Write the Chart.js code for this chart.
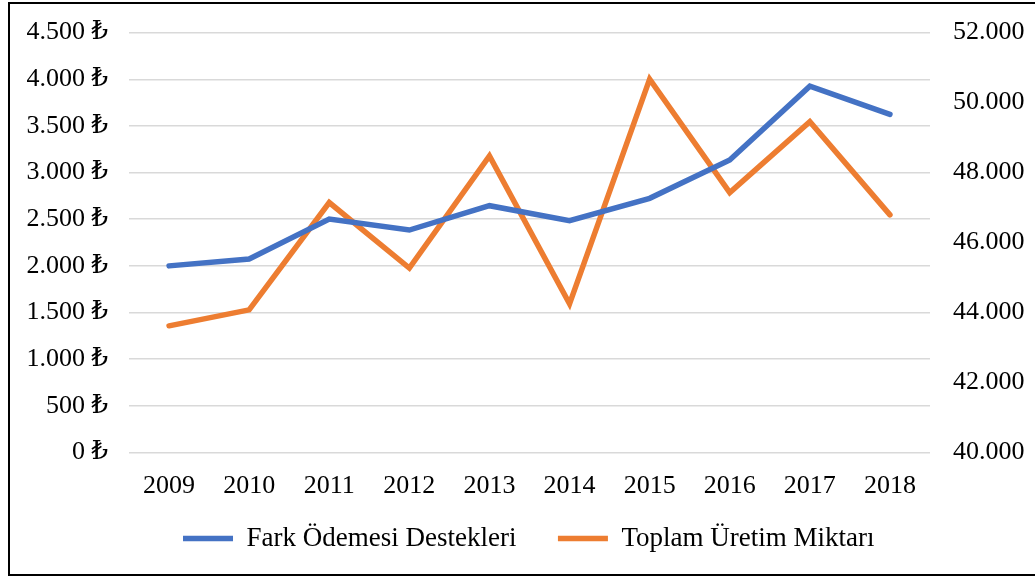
<!DOCTYPE html>
<html>
<head>
<meta charset="utf-8">
<script src="https://cdn.jsdelivr.net/npm/chart.js@4/dist/chart.umd.min.js"></script>
<style>
  html, body { margin: 0; padding: 0; background: #fff; overflow: hidden; }
  #wrap { position: relative; width: 1035px; height: 578px; overflow: hidden; }
  #frame { position: absolute; left: 8px; top: 2px; width: 1040px; height: 574px; border: 2px solid #000; box-sizing: border-box; pointer-events: none; }
</style>
</head>
<body>
<div id="wrap">
  <canvas id="c" width="1035" height="578"></canvas>
  <div id="frame"></div>
</div>
<script>
const categories = ['2009','2010','2011','2012','2013','2014','2015','2016','2017','2018'];
const farkOdemesi = [2000, 2074, 2502, 2384, 2645, 2484, 2724, 3134, 3926, 3623];
const toplamUretim = [43620, 44077, 47143, 45269, 48477, 44249, 50669, 47429, 49457, 46791];
const seriesLabels = ['Fark Ödemesi Destekleri', 'Toplam Üretim Miktarı'];
const leftTicks = [0, 500, 1000, 1500, 2000, 2500, 3000, 3500, 4000, 4500];
const rightTicks = [40000, 42000, 44000, 46000, 48000, 50000, 52000];
const currencySuffix = ' ₺';

const FONT = "'Liberation Serif', 'DejaVu Serif', 'Times New Roman', serif";
const fmt = v => String(v).replace(/\B(?=(\d{3})+(?!\d))/g, '.');

new Chart(document.getElementById('c'), {
  type: 'line',
  data: {
    labels: categories,
    datasets: [
      {
        label: seriesLabels[0], data: farkOdemesi, yAxisID: 'yL',
        borderColor: '#4472C4', backgroundColor: '#4472C4', borderWidth: 5.5,
        pointRadius: 0, tension: 0, borderCapStyle: 'round'
      },
      {
        label: seriesLabels[1], data: toplamUretim, yAxisID: 'yR',
        borderColor: '#ED7D31', backgroundColor: '#ED7D31', borderWidth: 5.5,
        pointRadius: 0, tension: 0, borderCapStyle: 'round'
      }
    ]
  },
  options: {
    responsive: false,
    animation: false,
    layout: { padding: { left: 22.5, right: 0, top: 32.6, bottom: 16 } },
    plugins: {
      tooltip: { enabled: false },
      legend: {
        position: 'bottom',
        labels: {
          usePointStyle: true, pointStyle: 'line', pointStyleWidth: 50,
          padding: 41.5, color: '#000',
          font: { family: FONT, size: 27 }
        }
      }
    },
    scales: {
      x: {
        offset: true,
        grid: { display: false, drawTicks: false },
        border: { display: false },
        ticks: { color: '#000', padding: -49, mirror: true, font: { family: FONT, size: 26, lineHeight: 1.2 }, maxRotation: 0, autoSkip: false },
        afterFit: s => { s.height = 31; s.paddingLeft = 0; s.paddingRight = 0; }
      },
      yL: {
        position: 'left',
        min: leftTicks[0], max: leftTicks[leftTicks.length - 1],
        afterBuildTicks: s => { s.ticks = leftTicks.map(v => ({ value: v })); },
        grid: { color: '#D9D9D9', lineWidth: 1.5, drawTicks: false },
        border: { display: false },
        ticks: { color: '#000', padding: 21, font: { family: FONT, size: 26 }, callback: v => fmt(v) + currencySuffix },
        afterFit: s => { s.width = 106.5; s.paddingTop = 0; s.paddingBottom = 0; }
      },
      yR: {
        position: 'right',
        min: rightTicks[0], max: rightTicks[rightTicks.length - 1],
        afterBuildTicks: s => { s.ticks = rightTicks.map(v => ({ value: v })); },
        grid: { drawOnChartArea: false, drawTicks: false },
        border: { display: false },
        ticks: { color: '#000', padding: 23, font: { family: FONT, size: 26 }, callback: v => fmt(v) },
        afterFit: s => { s.width = 105; s.paddingTop = 0; s.paddingBottom = 0; }
      }
    }
  }
});
</script>
</body>
</html>
